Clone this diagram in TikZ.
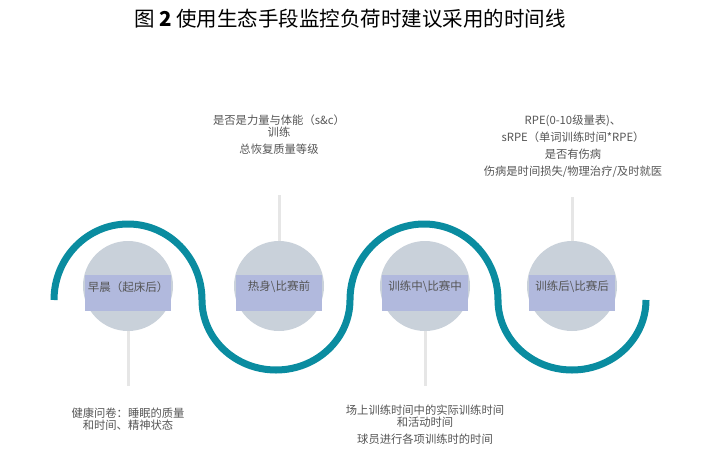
\documentclass[tikz,border=0pt]{standalone}
\usepackage{fontspec}
\setmainfont{Noto Sans CJK SC}
\definecolor{teal1}{HTML}{0A8CA0}
\definecolor{circ}{HTML}{C9D1DA}
\definecolor{lbl}{HTML}{B1B9DD}
\definecolor{txt}{HTML}{555555}
\definecolor{vline}{HTML}{E6E6E6}
\begin{document}
\begin{tikzpicture}[x=1pt,y=-1pt,
  circnode/.style={circle,fill=circ,minimum size=90pt,inner sep=0pt},
  lblbox/.style={fill=lbl,minimum width=86pt,minimum height=36pt,inner sep=0pt},
  lbltext/.style={font=\fontsize{11.5}{13}\selectfont,text=txt},
  note/.style={font=\fontsize{11.3}{17}\selectfont,text=txt,align=center},
  vl/.style={draw=vline,line width=3pt}]
\useasboundingbox (0,0) rectangle (720,469);
\node[font=\fontsize{20.5}{24}\selectfont] (title) at (350,19) {图 \textbf{2} 使用生态手段监控负荷时建议采用的时间线};
\coordinate (l1) at (128,386); \coordinate (l2) at (279,195);
\coordinate (l3) at (425,386); \coordinate (l4) at (572,197);
\node[circnode] (c1) at (128,286) {};
\node[circnode] (c2) at (279,286) {};
\node[circnode] (c3) at (425,286) {};
\node[circnode] (c4) at (572,286) {};
\draw[vl] (c1.south) -- (l1);
\draw[vl] (c2.north) -- (l2);
\draw[vl] (c3.south) -- (l3);
\draw[vl] (c4.north) -- (l4);
\draw[teal1,line width=7pt] (54,300) arc[start angle=180,end angle=0,x radius=74pt,y radius=76pt]
  arc[start angle=180,end angle=360,x radius=74pt,y radius=70pt]
  arc[start angle=180,end angle=0,x radius=74pt,y radius=76pt]
  arc[start angle=180,end angle=360,x radius=74pt,y radius=70pt];
\foreach \i in {1,2,3,4}{\node[lblbox] (b\i) at ([yshift=-7pt]c\i) {};}
\node[lbltext] (t1) at ([yshift=6pt]b1) {早晨（起床后）};
\node[lbltext] (t2) at ([yshift=6pt]b2) {热身\textbackslash 比赛前};
\node[lbltext] (t3) at ([yshift=6pt]b3) {训练中\textbackslash 比赛中};
\node[lbltext] (t4) at ([yshift=6pt]b4) {训练后\textbackslash 比赛后};
\node[note] (n2) at (279,135) {是否是力量与体能（s\&c）\\[-5pt]训练\\总恢复质量等级};
\node[note] (n4) at (573,146) {RPE(0-10级量表)、\\sRPE（单词训练时间*RPE）\\是否有伤病\\伤病是时间损失/物理治疗/及时就医};
\node[note] (n1) at (128,419) {健康问卷：睡眠的质量\\[-5pt]和时间、精神状态};
\node[note] (n3) at (425,425) {场上训练时间中的实际训练时间\\[-5pt]和活动时间\\球员进行各项训练时的时间};
\end{tikzpicture}
\end{document}
